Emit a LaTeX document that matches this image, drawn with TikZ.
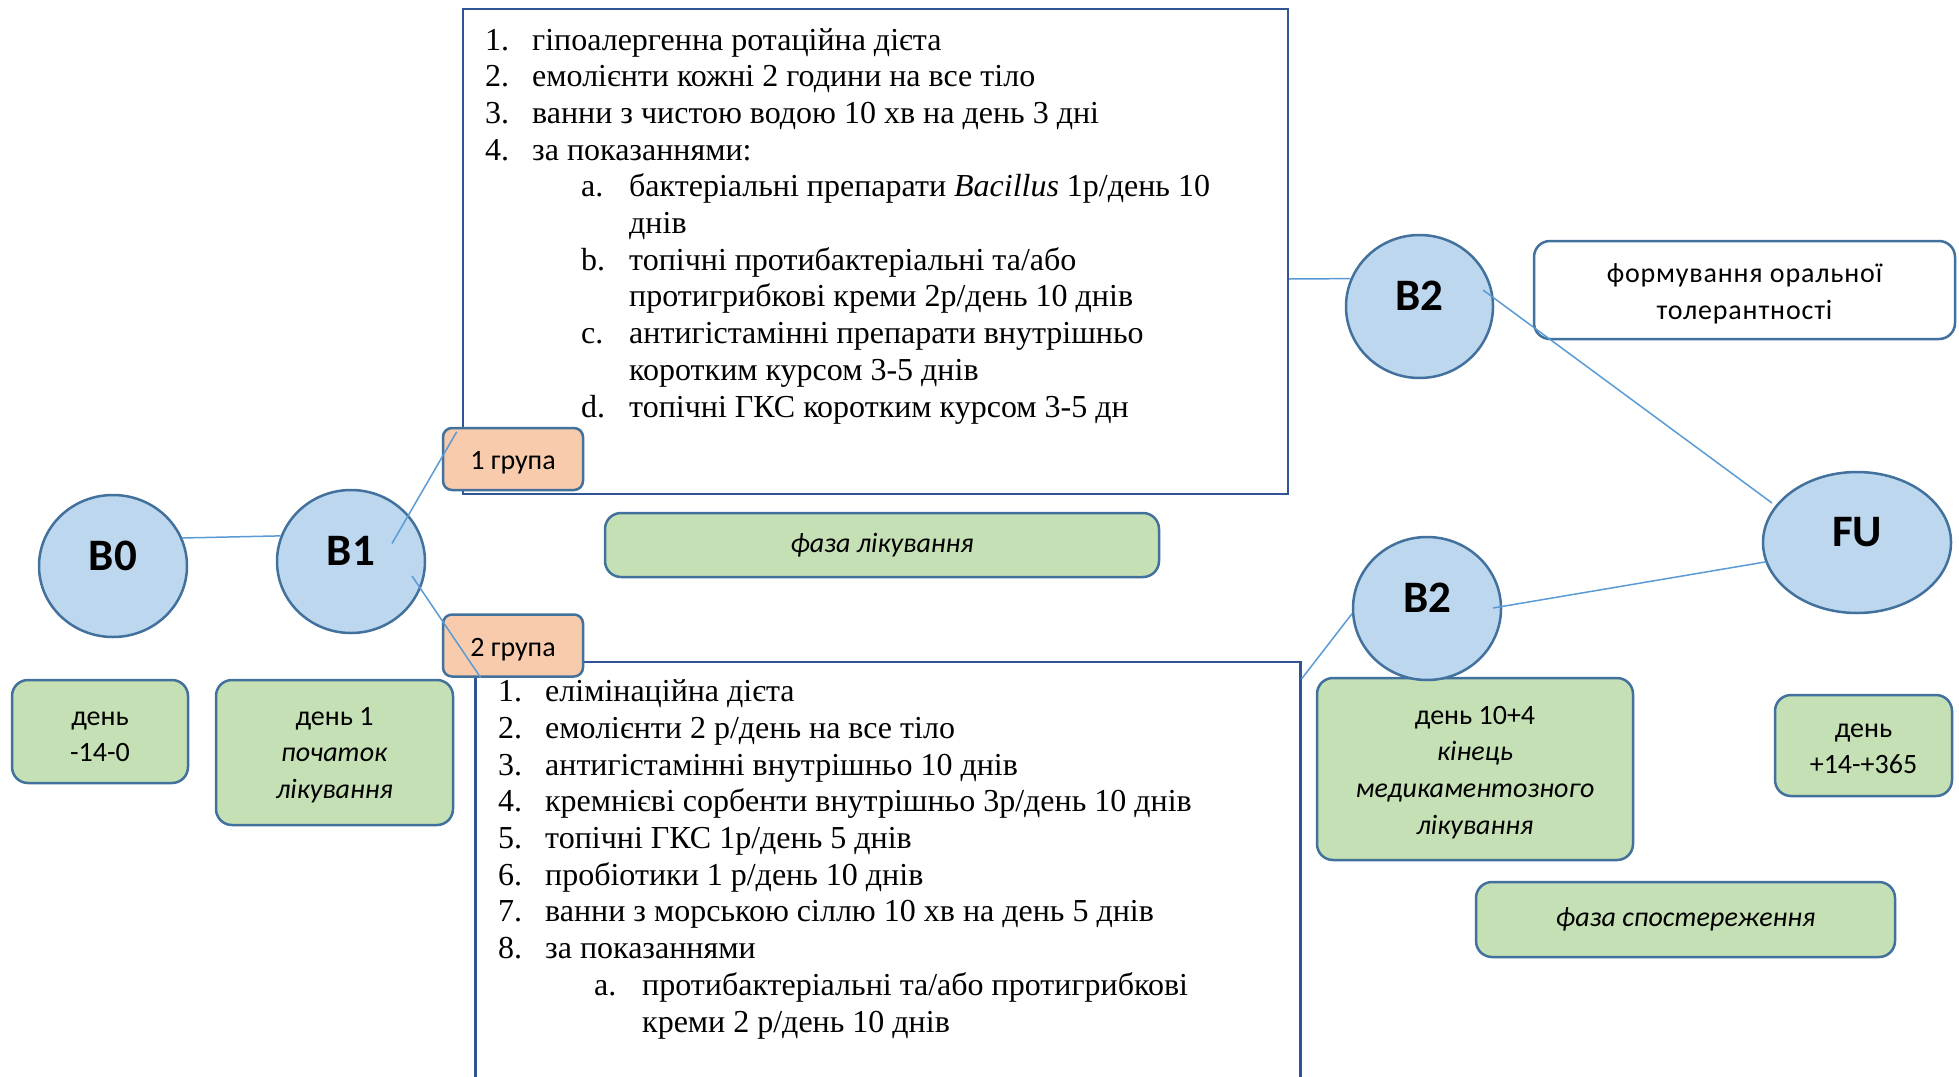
\documentclass[tikz,border=0pt]{standalone}
\usepackage{fontspec}
\setmainfont{Liberation Serif}
\newfontfamily\calib{Carlito}
\newfontfamily\calibwide[LetterSpace=3]{Carlito}
\usetikzlibrary{shapes.geometric,calc,positioning}

\definecolor{visitfill}{RGB}{189,215,238}
\definecolor{visitline}{RGB}{65,113,156}
\definecolor{daygreen}{RGB}{197,224,180}
\definecolor{grouppeach}{RGB}{248,203,173}
\definecolor{linkblue}{RGB}{91,155,213}
\definecolor{listblue}{RGB}{47,85,151}

\newcommand{\listnum}[1]{\makebox[47pt][l]{#1}}
\newcommand{\subnum}[1]{\hspace*{96pt}\makebox[48pt][l]{#1}}
\newcommand{\subcont}{\hspace*{144pt}}
\newcommand{\topgap}[1]{\rule{0pt}{#1}}

\begin{document}
\begin{tikzpicture}[x=1pt,y=-1pt]
    \tikzset{visit/.style={ellipse, draw=visitline, fill=visitfill, line width=2.5pt,
        inner sep=0pt, text height=32pt, text depth=24pt,
        font=\calib\bfseries\fontsize{45}{48}\selectfont},
      daybox/.style={rectangle, rounded corners=16pt, draw=visitline, fill=daygreen,
        line width=2.5pt, align=center, inner sep=0pt,
        font=\calib\fontsize{28}{36.7}\selectfont},
      groupbox/.style={rectangle, rounded corners=9pt, draw=visitline, fill=grouppeach,
        line width=2.5pt, minimum width=140pt, minimum height=62pt,
        text height=24pt, text depth=3pt, font=\calib\fontsize{28}{34}\selectfont},
      listbox/.style={rectangle, draw=listblue, fill=white, line width=2.2pt, inner sep=0pt},
      listtext/.style={anchor=base west, align=left, inner sep=0pt,
        font=\fontsize{32}{36.7}\selectfont},
      link/.style={draw=linkblue, line width=1.5pt}}
    \useasboundingbox (0,0) rectangle (1959,1076);
    \clip (0,0) rectangle (1959,1076);
    \fill[white] (0,0) rectangle (1959,1076);

    % treatment plans (text placed by the baseline of its last line)
    \node[listbox, minimum width=825pt, minimum height=485pt] (lst1) at (875.5,251.5) {};
    \node[listbox, minimum width=825pt, minimum height=500pt] (lst2) at (888,912) {};
    \node[listtext] (lst1txt) at (485,417) {\listnum{1.}гіпоалергенна ротаційна дієта\\
      \listnum{2.}емолієнти кожні 2 години на все тіло\\
      \listnum{3.}ванни з чистою водою 10 хв на день 3 дні\\
      \listnum{4.}за показаннями:\\
      \subnum{a.}бактеріальні препарати \textit{Bacillus} 1р/день 10\\
      \subcont днів\\
      \subnum{b.}топічні протибактеріальні та/або\\
      \subcont протигрибкові креми 2р/день 10 днів\\
      \subnum{c.}антигістамінні препарати внутрішньо\\
      \subcont коротким курсом 3-5 днів\\
      \subnum{d.}топічні ГКС коротким курсом 3-5 дн};
    \node[listtext] (lst2txt) at (498,1032) {\listnum{1.}елімінаційна дієта\\
      \listnum{2.}емолієнти 2 р/день на все тіло\\
      \listnum{3.}антигістамінні внутрішньо 10 днів\\
      \listnum{4.}кремнієві сорбенти внутрішньо 3р/день 10 днів\\
      \listnum{5.}топічні ГКС 1р/день 5 днів\\
      \listnum{6.}пробіотики 1 р/день 10 днів\\
      \listnum{7.}ванни з морською сіллю 10 хв на день 5 днів\\
      \listnum{8.}за показаннями\\
      \subnum{a.}протибактеріальні та/або протигрибкові\\
      \subcont креми 2 р/день 10 днів};

    \node[groupbox] (grp1) at (513,459) {1 група};
    \node[groupbox] (grp2) at (513,645.5) {2 група};

    % phases and days
    \node[daybox, minimum width=554pt, minimum height=64pt] (phtreat) at (882,545) {\itshape фаза лікування};
    \node[daybox, minimum width=419pt, minimum height=75pt] (phobs) at (1685.5,919.5) {\itshape фаза спостереження};
    \node[daybox, minimum width=176pt, minimum height=103pt] (day0) at (100,731.5) {\topgap{24pt}день\\-14-0};
    \node[daybox, minimum width=237pt, minimum height=145pt] (day1) at (334.5,752.5) {\topgap{23pt}день 1\\\textit{початок}\\\textit{лікування}};
    \node[daybox, minimum width=316pt, minimum height=182pt] (day14) at (1475,769) {\topgap{25pt}день 10+4\\\textit{кінець}\\\textit{медикаментозного}\\\textit{лікування}};
    \node[daybox, minimum width=177pt, minimum height=101pt] (day365) at (1863.5,745.5) {\topgap{20pt}день\\+14-+365};
    \node[daybox, fill=white, minimum width=421pt, minimum height=98pt,
      font=\calibwide\fontsize{28}{36.7}\selectfont] (toler) at (1744.5,290) {\topgap{27pt}формування оральної\\толерантності};

    % visits
    \node[visit, minimum width=148pt, minimum height=142pt] (B0) at (113,566) {B0};
    \node[visit, minimum width=148pt, minimum height=143pt] (B1) at (351,561.5) {B1};
    \node[visit, minimum width=147pt, minimum height=143pt] (B2a) at (1419.5,306.5) {B2};
    \node[visit, minimum width=148pt, minimum height=143pt] (B2b) at (1427,608.5) {B2};
    \node[visit, minimum width=188pt, minimum height=141pt] (FU) at (1857,542.5) {FU};

    \draw[link] (B0.22) -- (B1.160);
    \draw[link] ($(B1.center)+(41,-18)$) -- ($(grp1.north west)+(15,5)$);
    \draw[link] ($(B1.center)+(61,14.5)$) -- ($(grp2.south west)+(39,0)$);
    \draw[link] ($(lst1.east)+(0,27.5)$) -- (B2a.158);
    \draw[link] ($(lst2.north east)+(0,18)$) -- (B2b.184);
    \draw[link] ($(B2a.center)+(63.5,-16.5)$) -- ($(FU.center)+(-85,-39.5)$);
    \draw[link] ($(B2b.center)+(66,-0.5)$) -- ($(FU.center)+(-92,19.5)$);
\end{tikzpicture}
\end{document}
